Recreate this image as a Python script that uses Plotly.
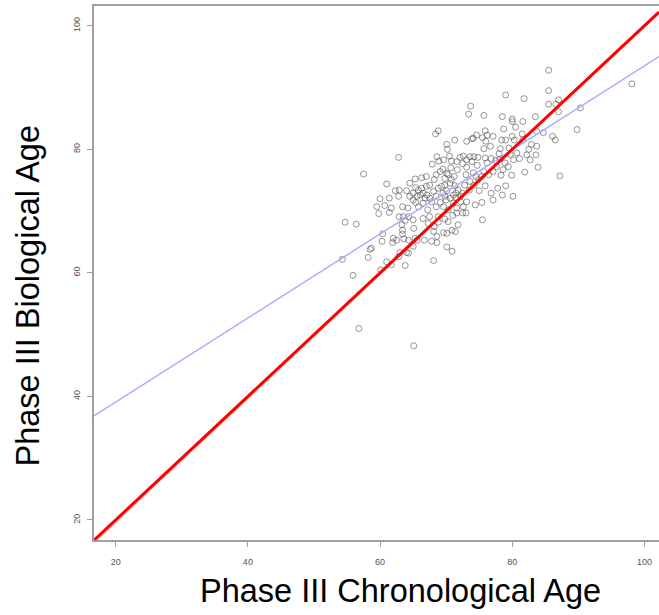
import numpy as np
import plotly.graph_objects as go

# Chronological vs biological age, Phase III
chrono_age = [
    85.5, 98.1, 85.5, 79.0, 81.8, 87.0, 85.5, 86.6, 73.7, 90.3, 87.0, 73.4, 75.7, 78.5,
    80.0, 80.0, 83.5, 81.6, 80.5, 78.7, 75.9, 68.8, 68.4, 89.8, 83.7, 84.7, 86.1, 86.5,
    76.2, 74.6, 74.1, 73.9, 75.5, 77.1, 71.3, 73.1, 70.1, 76.7, 76.0, 78.4, 79.0, 80.0,
    80.3, 81.5, 81.6, 82.9, 82.5, 83.7, 83.6, 81.1, 79.7, 78.0, 79.5, 78.2, 75.7, 70.2,
    62.8, 57.5, 68.9, 67.9, 70.5, 70.8, 72.1, 72.6, 73.6, 74.2, 74.8, 75.9, 76.8, 77.5,
    78.1, 72.5, 73.1, 74.7, 76.2, 77.1, 78.6, 78.3, 79.9, 81.9, 83.9, 87.2, 69.5, 70.1,
    70.7, 71.2, 71.7, 73.0, 74.1, 74.5, 66.3, 67.0, 65.3, 68.5, 67.5, 68.8, 69.8, 70.6,
    64.5, 61.0, 62.3, 62.9, 64.0, 65.4, 65.8, 66.5, 67.1, 68.5, 69.5, 70.1, 71.1, 71.5,
    72.5, 73.5, 75.0, 75.9, 76.8, 77.8, 79.0, 78.5, 77.1, 80.1, 60.0, 61.4, 62.8, 59.5,
    60.7, 61.7, 59.8, 61.4, 63.4, 64.2, 65.0, 65.4, 65.8, 66.5, 67.2, 67.8, 68.5, 69.1,
    69.6, 70.0, 70.3, 71.1, 71.6, 72.2, 72.6, 73.1, 74.4, 75.4, 71.6, 72.5, 73.0, 71.0,
    68.8, 69.8, 67.5, 66.5, 65.0, 64.3, 63.5, 62.9, 63.8, 75.5, 54.7, 56.4, 63.3, 63.4,
    65.1, 67.3, 68.2, 68.8, 70.3, 71.8, 70.9, 71.4, 69.6, 70.1, 68.1, 68.6, 60.4, 63.4,
    62.0, 62.5, 61.9, 63.6, 64.3, 65.3, 65.6, 66.7, 67.8, 68.6, 65.0, 60.3, 58.7, 58.5,
    70.1, 70.9, 64.0, 64.3, 63.0, 62.8, 58.2, 54.3, 68.1, 63.8, 61.7, 61.0, 60.1, 55.9,
    56.8, 65.1,
    69.1, 69.8, 70.3, 70.8, 71.3, 71.8, 72.2, 71.5, 70.6, 69.8, 69.3, 68.1, 67.5, 66.8,
    66.1, 65.6, 65.0, 64.5, 66.3, 67.0, 68.2, 72.8, 73.6, 74.2, 74.9, 75.4, 75.7, 76.4,
    77.6, 78.9, 79.4, 80.2, 80.7, 82.2, 82.7, 73.1, 73.9, 71.6, 69.6, 68.6,
]
bio_age = [
    92.8, 90.6, 89.5, 88.8, 88.2, 88.0, 87.3, 87.3, 87.0, 86.7, 86.1, 85.7, 85.5, 85.3,
    84.9, 84.5, 85.3, 84.5, 83.6, 83.3, 83.0, 83.0, 82.5, 83.2, 82.9, 82.7, 82.1, 81.5,
    82.3, 82.3, 81.8, 81.7, 81.9, 82.1, 81.5, 81.3, 80.8, 80.5, 81.3, 81.5, 81.5, 82.1,
    81.5, 82.5, 81.5, 80.8, 80.0, 80.5, 79.1, 78.5, 79.2, 79.3, 80.2, 80.1, 80.1, 80.0,
    78.7, 76.0, 78.1, 77.6, 78.9, 78.1, 78.7, 78.9, 78.8, 78.8, 78.7, 78.6, 78.5, 78.2,
    78.4, 77.7, 77.1, 77.4, 77.8, 76.4, 76.7, 75.8, 75.8, 76.3, 77.1, 75.7, 76.8, 76.1,
    77.0, 75.6, 76.7, 75.9, 76.2, 75.6, 75.4, 75.6, 75.2, 75.9, 74.2, 73.7, 74.2, 74.5,
    74.5, 74.4, 73.3, 73.4, 73.3, 73.8, 73.4, 72.9, 72.6, 72.4, 72.9, 73.3, 72.6, 72.2,
    72.9, 73.4, 73.3, 74.1, 72.9, 73.7, 74.1, 72.6, 71.8, 72.4, 72.0, 72.1, 72.4, 70.7,
    70.9, 70.5, 69.6, 69.8, 70.7, 70.5, 71.8, 71.4, 70.7, 71.3, 70.2, 71.5, 70.7, 71.4,
    70.7, 71.8, 70.2, 71.3, 70.5, 71.5, 70.7, 71.5, 71.0, 71.4, 69.7, 69.7, 69.7, 69.3,
    69.1, 68.7, 69.1, 68.8, 68.6, 69.1, 69.1, 69.1, 68.5, 68.6, 68.2, 67.9, 67.8, 66.9,
    67.2, 68.0, 67.5, 68.2, 68.3, 67.8, 66.9, 66.7, 66.5, 66.4, 66.7, 65.9, 66.3, 66.3,
    65.6, 65.3, 64.9, 65.5, 65.3, 65.6, 65.3, 65.3, 65.1, 64.9, 64.3, 65.1, 64.0, 63.8,
    64.2, 63.5, 63.3, 63.2, 63.3, 62.6, 62.5, 62.2, 62.0, 61.2, 61.3, 61.8, 60.5, 59.6,
    51.0, 48.2,
    76.4, 75.3, 75.9, 75.1, 74.1, 73.4, 72.4, 72.9, 72.1, 72.4, 74.0, 73.2, 72.1, 72.1,
    72.6, 72.4, 72.9, 72.4, 73.7, 74.0, 75.1, 74.2, 74.8, 74.2, 75.1, 75.6, 76.4, 75.9,
    77.2, 77.8, 77.2, 78.3, 79.4, 79.1, 78.3, 78.3, 78.0, 78.0, 78.3, 78.8,
]

# Reference lines: identity, fitted regression, and a faint companion line
identity_line = (0.0, 1.0)        # (intercept, slope)
fit_line = (25.5, 0.68)
companion_line = (-0.5, 1.005)

x_range = [16.72, 102.2]
y_range = [16.76, 103.2]
tick_vals = [20, 40, 60, 80, 100]

xs = np.array(x_range)

fig = go.Figure()

fig.add_trace(go.Scatter(
    x=chrono_age, y=bio_age, mode="markers",
    marker=dict(symbol="circle-open", size=6, color="rgba(80,80,80,0.6)",
                line=dict(width=1)),
    hoverinfo="skip", showlegend=False,
))
fig.add_trace(go.Scatter(
    x=xs, y=fit_line[0] + fit_line[1] * xs, mode="lines",
    line=dict(color="#adadff", width=1.5), showlegend=False,
))
fig.add_trace(go.Scatter(
    x=xs, y=companion_line[0] + companion_line[1] * xs, mode="lines",
    line=dict(color="rgba(255,120,120,0.35)", width=2), showlegend=False,
))
fig.add_trace(go.Scatter(
    x=xs, y=identity_line[0] + identity_line[1] * xs, mode="lines",
    line=dict(color="#ff0000", width=3), showlegend=False,
))

axis_common = dict(
    tickvals=tick_vals, showgrid=False, zeroline=False,
    showline=True, linecolor="#a0a0a0", linewidth=1.5,
    ticks="outside", ticklen=5, tickcolor="#a0a0a0", tickwidth=1,
    tickfont=dict(family="Liberation Sans, Arial, sans-serif", size=9, color="#555555"),
)

fig.update_layout(
    width=659, height=615,
    margin=dict(l=94, r=0, t=6, b=75),
    paper_bgcolor="white", plot_bgcolor="white",
    xaxis=dict(range=x_range, mirror=True, ticklabelstandoff=7, **axis_common),
    yaxis=dict(range=y_range, mirror=False, tickangle=-90, ticklabelstandoff=4,
               **axis_common),
    annotations=[
        dict(text="Phase III Chronological Age", xref="paper", yref="paper",
             x=0.5416, y=-0.0955, xanchor="center", yanchor="middle", showarrow=False,
             font=dict(family="Liberation Sans, Arial, sans-serif", size=32.5, color="black")),
        dict(text="Phase III Biological Age", xref="paper", yref="paper",
             x=-0.1177, y=0.457, xanchor="center", yanchor="middle", showarrow=False,
             textangle=-90,
             font=dict(family="Liberation Sans, Arial, sans-serif", size=32.5, color="black")),
    ],
)

fig.write_html("out.html")
